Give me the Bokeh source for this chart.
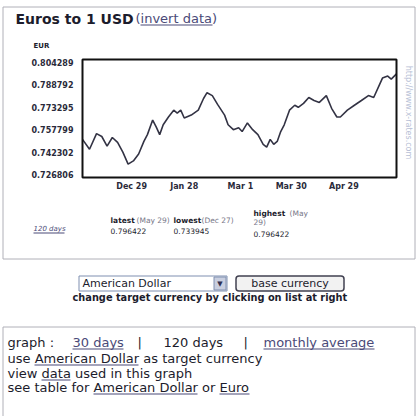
from math import pi
import pandas as pd
from bokeh.plotting import figure
from bokeh.models import (Range1d, FixedTicker, NumeralTickFormatter, Label, BoxAnnotation,
                          ColumnDataSource, DatetimeAxis, LinearAxis)
from bokeh.embed import file_html
from bokeh.resources import INLINE

# ---------------- data (Euros per 1 USD) ----------------
dates = ["2004-12-01", "2004-12-05", "2004-12-09", "2004-12-12", "2004-12-15", "2004-12-18",
         "2004-12-21", "2004-12-24", "2004-12-27", "2004-12-30", "2005-01-02", "2005-01-05",
         "2005-01-07", "2005-01-10", "2005-01-12", "2005-01-14", "2005-01-16", "2005-01-19",
         "2005-01-22", "2005-01-24", "2005-01-26", "2005-01-28", "2005-02-01", "2005-02-05",
         "2005-02-08", "2005-02-10", "2005-02-13", "2005-02-16", "2005-02-20", "2005-02-22",
         "2005-02-25", "2005-02-28", "2005-03-02", "2005-03-05", "2005-03-08", "2005-03-11",
         "2005-03-14", "2005-03-16", "2005-03-18", "2005-03-20", "2005-03-22", "2005-03-24",
         "2005-03-26", "2005-03-29", "2005-04-01", "2005-04-03", "2005-04-06", "2005-04-09",
         "2005-04-12", "2005-04-15", "2005-04-19", "2005-04-22", "2005-04-25", "2005-04-27",
         "2005-05-01", "2005-05-05", "2005-05-09", "2005-05-13", "2005-05-16", "2005-05-19",
         "2005-05-21", "2005-05-24", "2005-05-26", "2005-05-29"]
eur_per_usd = [0.7511, 0.7443, 0.7551, 0.7531, 0.7464, 0.7524,
               0.7490, 0.7423, 0.733945, 0.7362, 0.7410, 0.7497,
               0.7544, 0.7645, 0.7598, 0.7544, 0.7612, 0.7666,
               0.7713, 0.7693, 0.7713, 0.7659, 0.7679, 0.7713,
               0.7794, 0.7834, 0.7814, 0.7753, 0.7679, 0.7612,
               0.7578, 0.7592, 0.7565, 0.7625, 0.7578, 0.7544,
               0.7477, 0.7457, 0.7511, 0.7477, 0.7497, 0.7565,
               0.7612, 0.7713, 0.7747, 0.7733, 0.7760, 0.7801,
               0.7780, 0.7767, 0.7814, 0.7726, 0.7666, 0.7666,
               0.7713, 0.7747, 0.7780, 0.7814, 0.7801, 0.7881,
               0.7935, 0.7949, 0.7928, 0.796422]

y_ticks = [0.726806, 0.742302, 0.757799, 0.773295, 0.788792, 0.804289]
x_tick_dates = ["2004-12-29", "2005-01-28", "2005-03-01", "2005-03-30", "2005-04-29"]
x_tick_labels = ["Dec 29", "Jan 28", "Mar 1", "Mar 30", "Apr 29"]

stat_names = ["latest", "lowest", "highest"]
stat_dates = ["May 29", "Dec 27", "May 29"]
stat_values = ["0.796422", "0.733945", "0.796422"]

# ---------------- layout geometry (page px) ----------------
W, H = 418, 416
FL, FR, FT, FB = 82, 396, 59, 177          # chart plot area on the page
D0, D1 = "2004-12-01", "2005-05-29"        # date span of the chart area
V0, V1 = 0.72473, 0.80637                  # value span of the chart area
FONT = "DejaVu Sans"
DARK = "#1c1c2c"
LINK = "#4a4a78"

# ranges that place the chart inside the page-pixel frame
t0 = pd.Timestamp(D0).timestamp() * 1000.0
t1 = pd.Timestamp(D1).timestamp() * 1000.0
kx = (t1 - t0) / (FR - FL)
ky = (V1 - V0) / (FB - FT)
date_range = Range1d(start=t0 - FL * kx, end=t0 + (W - FL) * kx)
eur_range = Range1d(start=V0 - (H - FB) * ky, end=V1 + FT * ky)

p = figure(width=W, height=H, output_backend="svg", toolbar_location=None, title=None,
           x_range=Range1d(0, W), y_range=Range1d(H, 0),
           x_axis_location=None, y_axis_location=None, min_border=0)
p.extra_x_ranges = {"date": date_range}
p.extra_y_ranges = {"eur": eur_range}
p.background_fill_color = "white"
p.border_fill_color = "white"
p.outline_line_color = None
p.xgrid.visible = False
p.ygrid.visible = False


def R(x0, y0, x1, y1, line="#b0b0b8", fill=None, width=1, radius=0):
    p.add_layout(BoxAnnotation(left=x0, right=x1, top=y0, bottom=y1,
                               line_color=line, line_alpha=1, line_width=width,
                               fill_color=fill, fill_alpha=1 if fill else 0,
                               border_radius=radius))


def U(x0, x1, y, color=LINK):
    R(x0, y, x1, y + 1, line=None, fill=color)


def L(text, x0, y0, size, style="normal", color=DARK, align="left", angle=0.0):
    p.add_layout(Label(x=x0, y=y0, text=text,
                       text_font=FONT, text_font_size=f"{size}px", text_font_style=style,
                       text_color=color, text_align=align, text_baseline="middle", angle=angle))


# chart
x = pd.to_datetime(dates)
src = ColumnDataSource(dict(x=x, y=eur_per_usd))
p.line("x", "y", source=src, x_range_name="date", y_range_name="eur",
       line_color="#333344", line_width=1.6)
R(FL, FT, FR, FB, line="#111111", width=2)

xt = [pd.Timestamp(d).timestamp() * 1000.0 for d in x_tick_dates]
xaxis = DatetimeAxis(x_range_name="date", fixed_location=FB,
                     ticker=FixedTicker(ticks=xt),
                     major_label_overrides={t: s for t, s in zip(xt, x_tick_labels)})
yaxis = LinearAxis(y_range_name="eur", fixed_location=FL,
                   ticker=FixedTicker(ticks=y_ticks),
                   formatter=NumeralTickFormatter(format="0.000000"))
for ax in (xaxis, yaxis):
    ax.axis_line_color = None
    ax.major_tick_line_color = None
    ax.minor_tick_line_color = None
    ax.major_tick_in = 0
    ax.major_tick_out = 0
    ax.minor_tick_in = 0
    ax.minor_tick_out = 0
    ax.major_label_text_font = FONT
    ax.major_label_text_font_size = "8px"
    ax.major_label_text_font_style = "bold"
    ax.major_label_text_color = "#2a2a3a"
yaxis.major_label_standoff = 9
xaxis.major_label_standoff = 4
p.add_layout(xaxis, "below")
p.add_layout(yaxis, "left")

# boxes
R(2.5, 6.5, 414.5, 258.5)
R(78.5, 275.5, 226.5, 290.5, line="#7f8fb0")
R(213.5, 276.5, 225.5, 289.5, line="#8090b0", fill="#c9cfe0")
R(235.5, 275.5, 343.5, 290.5, line="#404050", fill="#f2f2f2", width=1.5, radius=3)
R(2.5, 326.5, 414.5, 430)

# header
L("Euros to 1 USD", 15, 18, 14, "bold")
L("(invert data)", 135, 18, 13, color=LINK)
U(140, 212, 24)
L("EUR", 33, 45, 7, "bold")
L("http://www.x-rates.com", 408, 112, 8, color="#b8bfd6", align="center", angle=-pi / 2)

# stats row
L("120 days", 33, 228, 7, "italic", color=LINK)
U(33, 64, 232)
sx = [110, 173, 253]
L(stat_names[0], sx[0], 220, 7.5, "bold")
L(f"({stat_dates[0]})", sx[0] + 26, 220, 7.5, color="#777788")
L(stat_values[0], sx[0], 230, 7.5)
L(stat_names[1], sx[1], 220, 7.5, "bold")
L(f"({stat_dates[1]})", sx[1] + 28, 220, 7.5, color="#777788")
L(stat_values[1], sx[1], 230, 7.5)
L(stat_names[2], sx[2], 213, 7.5, "bold")
L("(" + stat_dates[2].split(" ")[0], sx[2] + 36, 213, 7.5, color="#777788")
L(stat_dates[2].split(" ")[1] + ")", sx[2], 222, 7.5, color="#777788")
L(stat_values[2], sx[2], 233, 7.5)

# currency selector
L("American Dollar", 82, 283, 11)
L("\u25bc", 219.5, 283, 7, color="#303050", align="center")
L("base currency", 289.5, 283, 11, align="center")
L("change target currency by clicking on list at right", 72, 297, 9.8, "bold")

# bottom box
L("graph :", 7, 342, 13)
L("30 days", 72, 342, 13, color=LINK)
U(72, 123, 348)
L("|", 137, 342, 13)
L("120 days", 163, 342, 13)
L("|", 243, 342, 13)
L("monthly average", 263, 342, 13, color=LINK)
U(263, 374, 348)
L("use American Dollar as target currency", 7, 358, 13)
U(34, 138, 364)
L("view data used in this graph", 7, 373, 13)
U(41, 70, 379)
L("see table for American Dollar or Euro", 7, 387, 13)
U(93, 197, 393)
U(219, 249, 393)

open("out.html", "w").write(file_html(p, INLINE))
